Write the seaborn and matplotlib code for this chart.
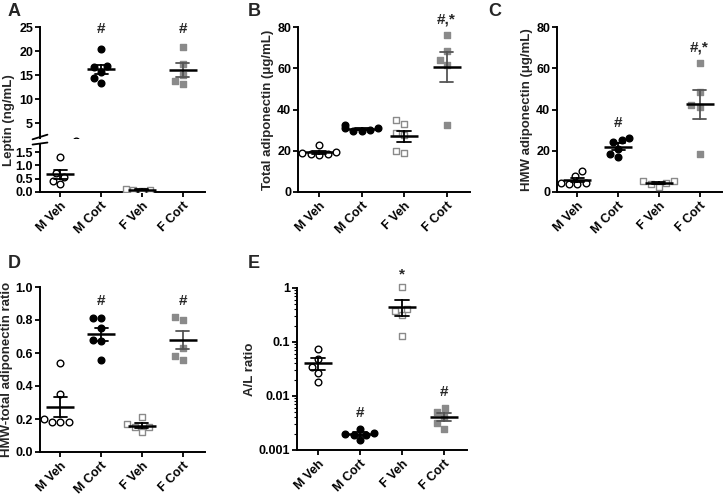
import matplotlib
matplotlib.use("Agg")
import numpy as np
import pandas as pd
import matplotlib.pyplot as plt
import seaborn as sns

# ── Data ──────────────────────────────────────────────────────────────────────
groups = ['M Veh', 'M Cort', 'F Veh', 'F Cort']

leptin = {
    'M Veh': [1.30, 0.72, 0.58, 0.42, 0.30],
    'M Cort': [20.4, 16.8, 16.6, 15.6, 14.4, 13.4],
    'F Veh': [0.12, 0.06, 0.04, 0.09],
    'F Cort': [20.8, 17.4, 15.0, 13.8, 13.1],
}
total_adipo = {
    'M Veh': [22.8, 19.5, 19.0, 18.5, 18.3, 18.0],
    'M Cort': [32.5, 31.2, 30.8, 30.3, 29.8, 29.5],
    'F Veh': [34.8, 33.2, 28.5, 27.5, 19.8, 18.8],
    'F Cort': [76.3, 68.6, 63.8, 61.7, 32.5],
}
hmw_adipo = {
    'M Veh': [10.2, 7.8, 4.2, 4.0, 4.0, 4.2],
    'M Cort': [26.4, 25.0, 24.2, 21.0, 18.6, 17.0],
    'F Veh': [5.5, 5.5, 4.5, 4.0, 2.5],
    'F Cort': [62.6, 48.5, 42.0, 41.0, 18.3],
}
hmw_ratio = {
    'M Veh': [0.54, 0.35, 0.18, 0.18, 0.18, 0.20],
    'M Cort': [0.81, 0.81, 0.75, 0.68, 0.67, 0.56],
    'F Veh': [0.21, 0.17, 0.15, 0.15, 0.12],
    'F Cort': [0.82, 0.80, 0.63, 0.58, 0.56],
}
al_ratio = {
    'M Veh': [0.074, 0.048, 0.035, 0.027, 0.018],
    'M Cort': [0.0025, 0.0021, 0.0020, 0.0019, 0.0019, 0.0015],
    'F Veh': [1.04, 0.41, 0.38, 0.31, 0.13],
    'F Cort': [0.0060, 0.0050, 0.0040, 0.0031, 0.0025],
}

# significance marks: (group, text, y)
marks_A = [('M Cort', '#', 24.6), ('F Cort', '#', 24.6)]
marks_B = [('F Cort', '#,*', 83.5)]
marks_C = [('M Cort', '#', 33.5), ('F Cort', '#,*', 70.0)]
marks_D = [('M Cort', '#', 0.915), ('F Cort', '#', 0.915)]
marks_E = [('M Cort', '#', 0.0048), ('F Veh', '*', 1.8), ('F Cort', '#', 0.012)]

GRAY = '#8a8a8a'
styles = {
    'M Veh': dict(marker='o', color='white', edgecolor='black'),
    'M Cort': dict(marker='o', color='black', edgecolor='black'),
    'F Veh': dict(marker='s', color='white', edgecolor=GRAY),
    'F Cort': dict(marker='s', color=GRAY, edgecolor=GRAY),
}
err_colors = {'M Veh': 'black', 'M Cort': 'black', 'F Veh': 'black', 'F Cort': '#555555'}

# ── Style ─────────────────────────────────────────────────────────────────────
sns.set_style('ticks')
plt.rcParams['font.family'] = ['Liberation Sans', 'DejaVu Sans']
plt.rcParams['font.weight'] = 'bold'
plt.rcParams['axes.labelweight'] = 'bold'
plt.rcParams['axes.linewidth'] = 1.4
plt.rcParams['xtick.major.width'] = 1.3
plt.rcParams['ytick.major.width'] = 1.3
plt.rcParams['xtick.major.size'] = 3.5
plt.rcParams['ytick.major.size'] = 3.5
plt.rcParams['xtick.major.pad'] = 2
plt.rcParams['ytick.major.pad'] = 1.5
plt.rcParams['xtick.labelsize'] = 9
plt.rcParams['ytick.labelsize'] = 9
plt.rcParams['axes.labelsize'] = 9.5
plt.rcParams['axes.labelpad'] = 2
plt.rcParams['xtick.color'] = 'black'
plt.rcParams['ytick.color'] = 'black'
plt.rcParams['axes.edgecolor'] = 'black'

W, H = 724, 495
fig = plt.figure(figsize=(W / 100, H / 100), dpi=100)


def rect(x0, y_top, x1, y_bot):
    return [x0 / W, 1 - y_bot / H, (x1 - x0) / W, (y_bot - y_top) / H]


def to_long(values):
    rows = [(g, v) for g in groups for v in values[g]]
    return pd.DataFrame(rows, columns=['group', 'value'])


def draw(ax, values):
    df = to_long(values)
    # mean +/- SEM
    sns.pointplot(data=df, x='group', y='value', order=groups, hue='group',
                  palette=err_colors, errorbar='se', capsize=0.32,
                  linestyle='none', marker='', err_kws={'linewidth': 1.3},
                  legend=False, ax=ax)
    sns.pointplot(data=df, x='group', y='value', order=groups, errorbar=None,
                  linestyle='none', marker='_', markersize=20,
                  markeredgewidth=1.8, color='black', ax=ax)
    for line in ax.lines:
        line.set_zorder(4)
    return df


def swarm(ax, df):
    for g in groups:
        st = styles[g]
        sns.swarmplot(data=df[df['group'] == g], x='group', y='value', order=groups,
                      marker=st['marker'], color=st['color'], edgecolor=st['edgecolor'],
                      linewidth=1.0, size=4.8, ax=ax, zorder=3)
    for coll in ax.collections:
        coll.set_clip_on(False)


def finish(ax, ylabel=None):
    sns.despine(ax=ax)
    ax.set_xlim(-0.5, 3.55)
    ax.set_xlabel('')
    ax.set_ylabel(ylabel if ylabel is not None else '')
    ax.set_xticks(range(len(groups)))
    ax.set_xticklabels(groups, rotation=45, ha='right', rotation_mode='anchor')


def add_marks(ax, marks):
    for g, txt, y in marks:
        ax.text(groups.index(g), y, txt, ha='center', va='center',
                fontsize=11, fontweight='bold')


# ── A: leptin, broken axis ────────────────────────────────────────────────────
axA_top = fig.add_axes(rect(40, 27, 205, 138))
axA_bot = fig.add_axes(rect(40, 144, 205, 192))
for ax in (axA_top, axA_bot):
    df = draw(ax, leptin)
    swarm(ax, df)
    finish(ax)
for coll in axA_top.collections + axA_bot.collections:
    coll.set_clip_on(True)
axA_top.set_ylim(1.9, 25)
axA_top.set_yticks([5, 10, 15, 20, 25])
axA_top.spines['bottom'].set_visible(False)
axA_top.tick_params(axis='x', bottom=False, labelbottom=False)
axA_bot.set_ylim(0, 1.8)
axA_bot.set_yticks([0, 0.5, 1.0, 1.5])
axA_bot.set_yticklabels(['0.0', '0.5', '1.0', '1.5'])
for ax, yy in ((axA_top, 0.0), (axA_bot, 1.0)):
    ax.plot([-0.045, 0.045], [yy - 0.012, yy + 0.03], transform=ax.transAxes,
            color='black', lw=1.3, clip_on=False)
add_marks(axA_top, marks_A)
fig.text(9 / W, 1 - 120 / H, 'Leptin (ng/mL)', rotation=90, ha='center', va='center',
         fontsize=9.5, fontweight='bold')

# ── B: total adiponectin ──────────────────────────────────────────────────────
axB = fig.add_axes(rect(298, 27, 470, 192))
df = draw(axB, total_adipo)
swarm(axB, df)
finish(axB, 'Total adiponectin (\u03bcg/mL)')
axB.set_ylim(0, 80)
axB.set_yticks([0, 20, 40, 60, 80])
add_marks(axB, marks_B)

# ── C: HMW adiponectin ────────────────────────────────────────────────────────
axC = fig.add_axes(rect(557, 27, 722, 192))
df = draw(axC, hmw_adipo)
swarm(axC, df)
finish(axC, 'HMW adiponectin (\u03bcg/mL)')
axC.set_ylim(0, 80)
axC.set_yticks([0, 20, 40, 60, 80])
add_marks(axC, marks_C)

# ── D: HMW / total ratio ──────────────────────────────────────────────────────
axD = fig.add_axes(rect(40, 287, 205, 452))
df = draw(axD, hmw_ratio)
swarm(axD, df)
finish(axD, 'HMW-total adiponectin ratio')
axD.set_ylim(0, 1.0)
axD.set_yticks([0, 0.2, 0.4, 0.6, 0.8, 1.0])
axD.set_yticklabels(['0.0', '0.2', '0.4', '0.6', '0.8', '1.0'])
add_marks(axD, marks_D)

# ── E: A/L ratio, log scale ───────────────────────────────────────────────────
axE = fig.add_axes(rect(297, 288, 467, 450))
df = draw(axE, al_ratio)   # arithmetic mean, drawn before switching to log
axE.set_yscale('log')
swarm(axE, df)
finish(axE, 'A/L ratio')
axE.set_ylim(0.001, 1)
axE.set_yticks([0.001, 0.01, 0.1, 1])
axE.set_yticklabels(['0.001', '0.01', '0.1', '1'])
axE.tick_params(axis='y', which='minor', length=2, width=0.8)
add_marks(axE, marks_E)

# panel letters
for lab, x, y in (('A', 8, 12), ('B', 248, 12), ('C', 488, 12), ('D', 8, 263), ('E', 248, 263)):
    fig.text(x / W, 1 - y / H, lab, fontsize=13, fontweight='bold', va='center')

fig.savefig('out.png', dpi=100)
